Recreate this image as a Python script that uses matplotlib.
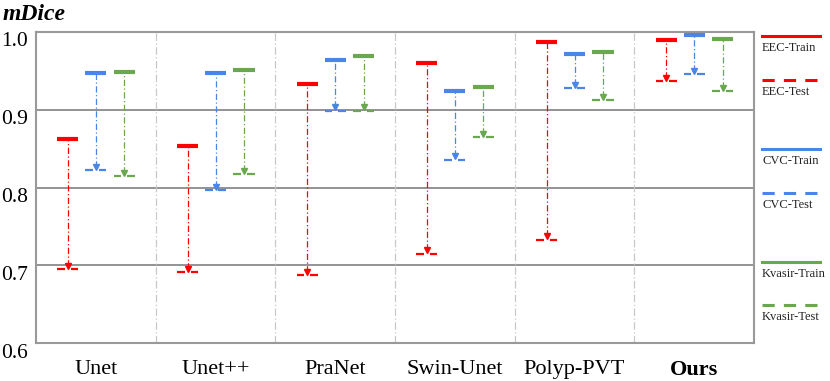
import matplotlib
matplotlib.use("Agg")
import matplotlib.pyplot as plt
from matplotlib.lines import Line2D
from matplotlib.transforms import ScaledTranslation, blended_transform_factory
import numpy as np

plt.rcParams['font.family'] = ['Liberation Serif', 'DejaVu Serif']

methods = ["Unet", "Unet++", "PraNet", "Swin-Unet", "Polyp-PVT", "Ours"]
datasets = ["EEC", "CVC", "Kvasir"]
eec_train = [0.862, 0.854, 0.933, 0.960, 0.987, 0.990]
eec_test = [0.695, 0.691, 0.687, 0.715, 0.733, 0.937]
cvc_train = [0.947, 0.947, 0.964, 0.924, 0.972, 0.996]
cvc_test = [0.823, 0.797, 0.899, 0.836, 0.928, 0.946]
kvasir_train = [0.949, 0.951, 0.969, 0.929, 0.974, 0.991]
kvasir_test = [0.815, 0.817, 0.899, 0.865, 0.913, 0.924]
yticks = [0.6, 0.7, 0.8, 0.9, 1.0]

colors = ["#ff0000", "#4a86e8", "#6aa84f"]
trains = [eec_train, cvc_train, kvasir_train]
tests = [eec_test, cvc_test, kvasir_test]

fig = plt.figure(figsize=(8.30, 3.81), dpi=100)
ax = fig.add_axes([36/830, 1-343/381, 718/830, 311/381])

n = len(methods)
centers = np.arange(n) + 0.5
offsets = [-0.233, 0.0, 0.238]
capw = 0.088
gap = 0.025

for y in [0.7, 0.8, 0.9]:
    ax.axhline(y, color="#808080", lw=1.2, zorder=1)
for b in range(1, n):
    ax.axvline(b, color="#c8c8c8", lw=0.9, ls=(0, (6, 2, 1, 2)), zorder=1)

for tr, te, c, off in zip(trains, tests, colors, offsets):
    for i in range(n):
        x = centers[i] + off
        ax.vlines(x, te[i] + 0.004, tr[i], color=c, lw=0.9, ls=(0, (5, 2, 1, 2)), zorder=2)
        ax.hlines(tr[i], x - capw, x + capw, color=c, lw=3.0, zorder=3)
        ax.hlines(te[i], x - capw, x - gap, color=c, lw=1.6, zorder=3)
        ax.hlines(te[i], x + gap, x + capw, color=c, lw=1.6, zorder=3)
        ax.plot([x], [te[i] + 0.004], marker="v", color=c, ms=4, zorder=3, mec=c)

ax.set_xlim(0, n)
ax.set_ylim(0.6, 1.0)
ax.set_yticks(yticks)
ax.set_yticklabels([])
ytrans = blended_transform_factory(ax.transAxes, ax.transData) + \
    ScaledTranslation(-8/100, -10/100, fig.dpi_scale_trans)
for v in yticks:
    ax.text(0, v, f"{v:.1f}", transform=ytrans, fontsize=15.5, ha="right", va="center",
            clip_on=False)
ax.set_xticks(centers)
ax.set_xticklabels(methods, fontsize=16)
for lab in ax.get_xticklabels():
    if lab.get_text() == "Ours":
        lab.set_fontweight("bold")
ax.tick_params(axis="y", length=0, pad=5)
ax.tick_params(axis="x", length=0, pad=12)
for s in ax.spines.values():
    s.set_color("#999999")
    s.set_linewidth(1.5)

fig.text(3/830, 1-15/381, "mDice", fontsize=17, fontweight="bold", fontstyle="italic", va="center", ha="left")

# legend
ys_line = [36, 80, 149, 193, 262, 305]
labels = []
styles = []
for d, c in zip(datasets, colors):
    labels += [f"{d}-Train", f"{d}-Test"]
    styles += [(c, "-"), (c, "--")]
for yl, lab, (c, ls) in zip(ys_line, labels, styles):
    yy = 1 - yl/381
    dashes = (0, (4, 3)) if ls == "--" else "-"
    fig.add_artist(Line2D([762/830, 820/830], [yy, yy], color=c, lw=2.2,
                          ls=dashes, transform=fig.transFigure))
    fig.text(762/830, 1-(yl+12)/381, lab, fontsize=9, va="center", ha="left", color="#222222")

fig.savefig("out.png", dpi=100)
